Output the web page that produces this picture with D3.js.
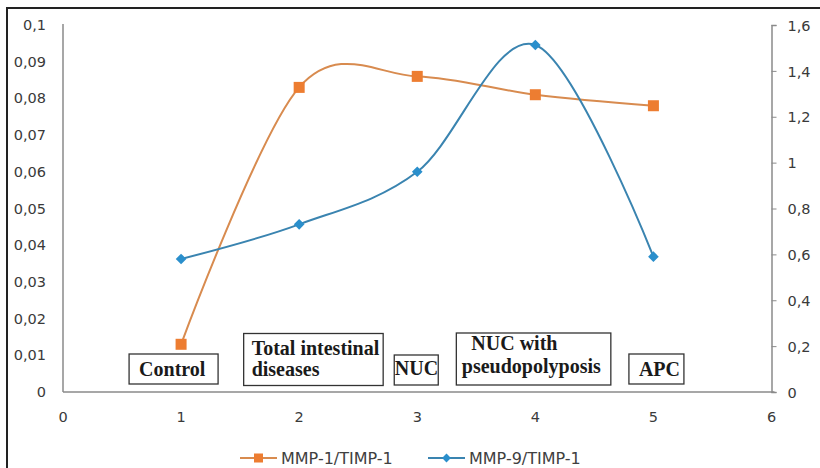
<!DOCTYPE html>
<html>
<head>
<meta charset="utf-8">
<script src="https://cdn.jsdelivr.net/npm/d3@7"></script>
<style>
  body { margin: 0; background: #fff; }
  svg { display: block; }
  .tick-label { font-family: "DejaVu Sans", sans-serif; font-size: 14.5px; fill: #3a3a3a; }
  .legend-label { font-family: "DejaVu Sans", sans-serif; font-size: 16px; fill: #404040; }
  .box-label { font-family: "Liberation Serif", "Times New Roman", serif; font-weight: bold; font-size: 20px; fill: #1a1a1a; }
</style>
</head>
<body>
<script>
// data
var xs = [1, 2, 3, 4, 5];
var mmp1 = [0.013, 0.083, 0.086, 0.081, 0.078];   // left axis
var mmp9 = [0.58, 0.731, 0.96, 1.513, 0.59];      // right axis
var groups = [["Control"], ["Total intestinal", "diseases"], ["NUC"], ["NUC with", "pseudopolyposis"], ["APC"]];
var seriesNames = ["MMP-1/TIMP-1", "MMP-9/TIMP-1"];
var leftTicks = [0, 0.01, 0.02, 0.03, 0.04, 0.05, 0.06, 0.07, 0.08, 0.09, 0.1];
var rightTicks = [0, 0.2, 0.4, 0.6, 0.8, 1, 1.2, 1.4, 1.6];
var xTicks = [0, 1, 2, 3, 4, 5, 6];

var width = 820, height = 468;
var orange = "#ed7d31", orangeLine = "#d88b4f";
var blue = "#2a8fcc", blueLine = "#3a84b0";

var svg = d3.select("body").append("svg")
  .attr("width", width)
  .attr("height", height);

// outer frame (runs off the right and bottom edges)
svg.append("rect")
  .attr("x", 7).attr("y", 8)
  .attr("width", 830).attr("height", 480)
  .attr("fill", "#fff")
  .attr("stroke", "#222")
  .attr("stroke-width", 2);

var x = d3.scaleLinear().domain([0, 6]).range([63, 771.5]);
var yL = d3.scaleLinear().domain([0, 0.1]).range([392, 25]);
var yR = d3.scaleLinear().domain([0, 1.6]).range([392, 25]);

var fmt = function (d) { return String(d).replace(".", ","); };

// left axis: line only, labels
svg.append("line")
  .attr("x1", x(0)).attr("x2", x(0))
  .attr("y1", yL(0.1) - 1).attr("y2", yL(0))
  .attr("stroke", "#8a8a8a").attr("stroke-width", 1.5);
svg.selectAll(".ltick").data(leftTicks).enter().append("text")
  .attr("class", "tick-label")
  .attr("x", x(0) - 17)
  .attr("y", function (d) { return yL(d) + 5; })
  .attr("text-anchor", "end")
  .text(fmt);

// right axis with outward ticks
var rAxis = svg.append("g")
  .attr("transform", "translate(" + x(6) + ",0)")
  .call(d3.axisRight(yR).tickValues(rightTicks).tickSize(5).tickFormat(fmt));
rAxis.select(".domain").attr("stroke", "#8a8a8a").attr("stroke-width", 1.5);
rAxis.selectAll(".tick line").attr("stroke", "#8a8a8a");
rAxis.selectAll(".tick text")
  .attr("class", "tick-label")
  .attr("x", 16)
  .attr("dy", "0.36em")
  .attr("text-anchor", "start")
  .attr("font-family", null).attr("font-size", null);

// x axis
svg.append("line")
  .attr("x1", x(0)).attr("x2", x(6) + 3)
  .attr("y1", yL(0)).attr("y2", yL(0))
  .attr("stroke", "#8a8a8a").attr("stroke-width", 1.5);
svg.selectAll(".xtick").data(xTicks).enter().append("text")
  .attr("class", "tick-label")
  .attr("x", function (d) { return x(d); })
  .attr("y", 422)
  .attr("text-anchor", "middle")
  .text(function (d) { return d; });

// smoothed lines (Excel-style smoothing ~ Catmull-Rom)
var line1 = d3.line()
  .x(function (d, i) { return x(xs[i]); })
  .y(function (d) { return yL(d); })
  .curve(d3.curveCardinal.tension(0));
var line9 = d3.line()
  .x(function (d, i) { return x(xs[i]); })
  .y(function (d) { return yR(d); })
  .curve(d3.curveCardinal.tension(0));

svg.append("path").datum(mmp1)
  .attr("d", line1)
  .attr("fill", "none").attr("stroke", orangeLine).attr("stroke-width", 2);
svg.append("path").datum(mmp9)
  .attr("d", line9)
  .attr("fill", "none").attr("stroke", blueLine).attr("stroke-width", 2);

svg.selectAll(".m1").data(mmp1).enter().append("rect")
  .attr("x", function (d, i) { return x(xs[i]) - 5.5; })
  .attr("y", function (d) { return yL(d) - 5.5; })
  .attr("width", 11).attr("height", 11)
  .attr("fill", orange);

var diamond = d3.symbol().type(d3.symbolDiamond2).size(72);
svg.selectAll(".m9").data(mmp9).enter().append("path")
  .attr("transform", function (d, i) { return "translate(" + x(xs[i]) + "," + yR(d) + ")"; })
  .attr("d", diamond)
  .attr("fill", blue);

// group label boxes, offsets relative to each x position
var boxes = [
  {dx: -52, w: 89, top: 354, h: 30, tx: 10, lines: [376]},
  {dx: -55.5, w: 139.5, top: 333.5, h: 52, tx: 8, lines: [355, 376]},
  {dx: -23, w: 44, top: 355, h: 30, tx: 0.5, lines: [375]},
  {dx: -79, w: 154.5, top: 333, h: 52, tx: [15, 5.5], lines: [350, 373]},
  {dx: -24.5, w: 55, top: 354, h: 30, tx: 10, lines: [375.5]}
];

boxes.forEach(function (b, i) {
  var left = x(xs[i]) + b.dx;
  var g = svg.append("g");
  g.append("rect")
    .attr("x", left).attr("y", b.top)
    .attr("width", b.w).attr("height", b.h)
    .attr("fill", "#fff")
    .attr("stroke", "#333").attr("stroke-width", 1.3);
  groups[i].forEach(function (t, j) {
    var tx = Array.isArray(b.tx) ? b.tx[j] : b.tx;
    g.append("text")
      .attr("class", "box-label")
      .attr("x", left + tx)
      .attr("y", b.lines[j])
      .text(t);
  });
});

// legend
var legend = [
  {x0: 240, color: orange, lineColor: orangeLine, shape: "square"},
  {x0: 428, color: blue, lineColor: blueLine, shape: "diamond"}
];
legend.forEach(function (l, i) {
  var g = svg.append("g");
  g.append("line")
    .attr("x1", l.x0).attr("x2", l.x0 + 37)
    .attr("y1", 458).attr("y2", 458)
    .attr("stroke", l.lineColor).attr("stroke-width", 2);
  if (l.shape === "square") {
    g.append("rect")
      .attr("x", l.x0 + 18.5 - 4.5).attr("y", 458 - 4.5)
      .attr("width", 9).attr("height", 9)
      .attr("fill", l.color);
  } else {
    g.append("path")
      .attr("transform", "translate(" + (l.x0 + 18.5) + ",458)")
      .attr("d", d3.symbol().type(d3.symbolDiamond2).size(50))
      .attr("fill", l.color);
  }
  g.append("text")
    .attr("class", "legend-label")
    .attr("x", l.x0 + 41)
    .attr("y", 463.5)
    .text(seriesNames[i]);
});
</script>
</body>
</html>
